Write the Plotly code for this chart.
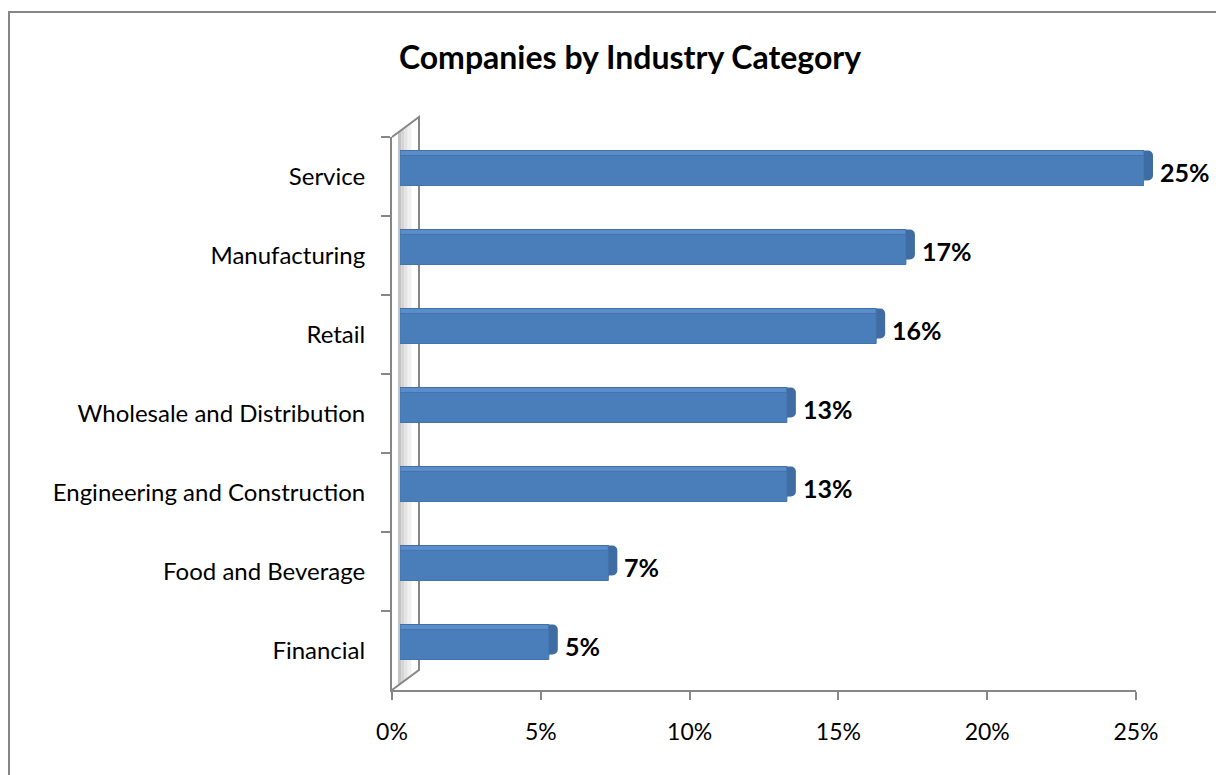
import plotly.graph_objects as go

# Industry categories (top to bottom) and their share of companies, in percent
categories = [
    "Service",
    "Manufacturing",
    "Retail",
    "Wholesale and Distribution",
    "Engineering and Construction",
    "Food and Beverage",
    "Financial",
]
shares = [25, 17, 16, 13, 13, 7, 5]
x_ticks = [0, 5, 10, 15, 20, 25]
x_tick_labels = ["0%", "5%", "10%", "15%", "20%", "25%"]
title_text = "Companies by Industry Category"

W, H = 1216, 775
FONT = "Lato, Carlito, 'Open Sans', sans-serif"
AXIS_GREY = "#868686"


def fx(px):
    return px / W


def fy(py):
    return 1 - py / H


# plot frame (front plane) in pixels
X0, X1 = 392, 1136
Y_TOP, Y_BOT = 137, 690
DEPTH_X, DEPTH_Y = 27, 20        # offset of the back wall
BAR_DX, BAR_DY = 8, 6            # bar front face sits a little into the depth
TOP_DY = 5                       # visible thickness of the bar's top face
CAP_DX = 9                       # visible thickness of the bar's end cap

n = len(categories)
y_range = [n - 0.5, -0.5]
x_range = [0, x_ticks[-1]]

fig = go.Figure()

# invisible trace so the main category axis is populated
fig.add_trace(go.Scatter(x=[0] * n, y=categories, mode="markers",
                         marker=dict(opacity=0), hoverinfo="skip",
                         showlegend=False, xaxis="x", yaxis="y"))

# end cap (dark, shifted right and up)
fig.add_trace(go.Bar(x=shares, y=categories, orientation="h", width=0.38,
                     marker=dict(color="#3F6CA2", cornerradius=5,
                                 line=dict(width=0)),
                     hoverinfo="skip", showlegend=False,
                     xaxis="x2", yaxis="y2"))
# top face (lighter, shifted up)
fig.add_trace(go.Bar(x=shares, y=categories, orientation="h", width=0.38,
                     marker=dict(color="#5B8DCC",
                                 line=dict(width=1, color="#41709F")),
                     hoverinfo="skip", showlegend=False,
                     xaxis="x3", yaxis="y3"))
# front face
fig.add_trace(go.Bar(x=shares, y=categories, orientation="h", width=0.38,
                     marker=dict(color="#4A7EBB",
                                 line=dict(width=1, color="#4474AC")),
                     hovertemplate="%{y}: %{x}%<extra></extra>",
                     showlegend=False,
                     xaxis="x4", yaxis="y4"))

hidden = dict(visible=False, showgrid=False, zeroline=False, fixedrange=True,
              automargin=False)

fig.update_layout(
    template="none",
    width=W, height=H, autosize=False,
    margin=dict(l=0, r=0, t=0, b=0, pad=0, autoexpand=False),
    paper_bgcolor="white", plot_bgcolor="rgba(0,0,0,0)",
    font=dict(family=FONT, size=23, color="black"),
    barmode="overlay",
    title=dict(text=f"<b>{title_text}</b>", x=fx(630), y=fy(58),
               xanchor="center", yanchor="middle",
               font=dict(family=FONT, size=32, color="black")),
    xaxis=dict(domain=[fx(X0), fx(X1)], range=x_range, tickmode="array",
               tickvals=x_ticks, ticktext=x_tick_labels,
               showgrid=False, zeroline=False, automargin=False,
               showline=True, linecolor=AXIS_GREY, linewidth=2,
               ticks="outside", ticklen=8, tickwidth=2, tickcolor=AXIS_GREY,
               ticklabelstandoff=12, anchor="y", fixedrange=True),
    yaxis=dict(domain=[fy(Y_BOT), fy(Y_TOP)], type="category",
               categoryorder="array", categoryarray=categories,
               range=y_range, showgrid=False, zeroline=False, automargin=False,
               showline=True, linecolor=AXIS_GREY, linewidth=2,
               ticks="outside", ticklen=9, tickwidth=2, tickcolor=AXIS_GREY,
               tickson="boundaries", ticklabelstandoff=20,
               tickfont=dict(size=24),
               anchor="x", fixedrange=True),
    # cap
    xaxis2=dict(domain=[fx(X0 + BAR_DX + CAP_DX), fx(X1 + BAR_DX + CAP_DX)],
                range=x_range, anchor="y2", **hidden),
    yaxis2=dict(domain=[fy(Y_BOT - BAR_DY - TOP_DY), fy(Y_TOP - BAR_DY - TOP_DY)],
                type="category", categoryorder="array", categoryarray=categories,
                range=y_range, anchor="x2", **hidden),
    # top face
    xaxis3=dict(domain=[fx(X0 + BAR_DX), fx(X1 + BAR_DX)],
                range=x_range, anchor="y3", **hidden),
    yaxis3=dict(domain=[fy(Y_BOT - BAR_DY - TOP_DY), fy(Y_TOP - BAR_DY - TOP_DY)],
                type="category", categoryorder="array", categoryarray=categories,
                range=y_range, anchor="x3", **hidden),
    # front face
    xaxis4=dict(domain=[fx(X0 + BAR_DX), fx(X1 + BAR_DX)],
                range=x_range, anchor="y4", **hidden),
    yaxis4=dict(domain=[fy(Y_BOT - BAR_DY), fy(Y_TOP - BAR_DY)],
                type="category", categoryorder="array", categoryarray=categories,
                range=y_range, anchor="x4", **hidden),
)

# value labels at the end of each bar
for cat, v in zip(categories, shares):
    fig.add_annotation(x=v, y=cat, xref="x4", yref="y4", text=f"<b>{v}%</b>",
                       showarrow=False, xanchor="left", yanchor="middle",
                       xshift=14, yshift=-1,
                       font=dict(family=FONT, size=25, color="black"))

shapes = []
# side wall shading: a few slanted strips getting lighter towards the back
for t0, t1, col in [(0.22, 0.34, "#c4c4c4"), (0.34, 0.46, "#d4d4d4"),
                    (0.46, 0.58, "#e3e3e3"), (0.58, 0.72, "#f0f0f0")]:
    xa, xb = X0 + DEPTH_X * t0, X0 + DEPTH_X * t1
    ya_t, yb_t = Y_TOP - DEPTH_Y * t0, Y_TOP - DEPTH_Y * t1
    ya_b, yb_b = Y_BOT - DEPTH_Y * t0, Y_BOT - DEPTH_Y * t1
    path = (f"M {fx(xa)},{fy(ya_b)} L {fx(xa)},{fy(ya_t)} "
            f"L {fx(xb)},{fy(yb_t)} L {fx(xb)},{fy(yb_b)} Z")
    shapes.append(dict(type="path", xref="paper", yref="paper", path=path,
                       fillcolor=col, line=dict(width=0), layer="below"))

# wall edges: back vertical, top and bottom diagonals
wall_edges = (f"M {fx(X0)},{fy(Y_TOP)} L {fx(X0 + DEPTH_X)},{fy(Y_TOP - DEPTH_Y)} "
              f"L {fx(X0 + DEPTH_X)},{fy(Y_BOT - DEPTH_Y)} L {fx(X0)},{fy(Y_BOT)}")
shapes.append(dict(type="path", xref="paper", yref="paper", path=wall_edges,
                   line=dict(color=AXIS_GREY, width=2), layer="below"))

# chart border
shapes.append(dict(type="rect", xref="paper", yref="paper",
                   x0=fx(9), y0=fy(H + 20), x1=fx(W + 20), y1=fy(12),
                   line=dict(color=AXIS_GREY, width=2), fillcolor="rgba(0,0,0,0)",
                   layer="above"))

fig.update_layout(shapes=shapes)

fig.write_html("out.html", config={"displayModeBar": False})
